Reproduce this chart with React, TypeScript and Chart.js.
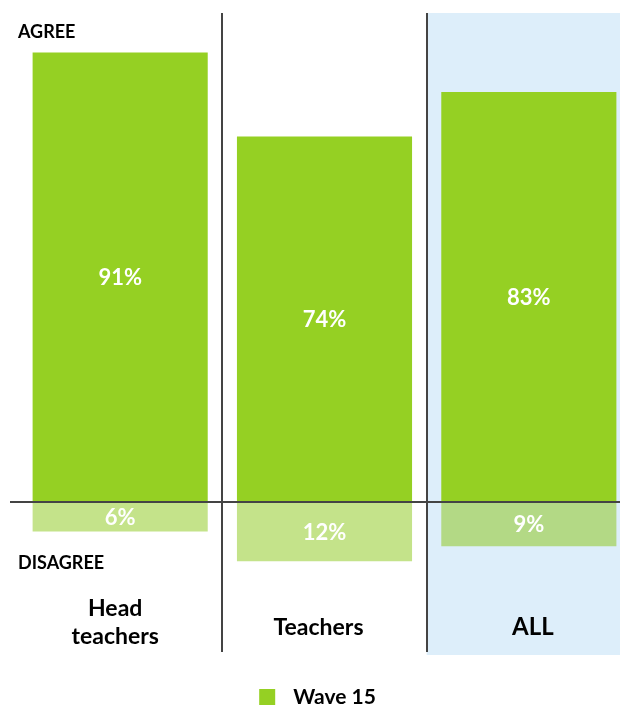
import React, { useEffect, useRef } from "react";
import { Chart, registerables } from "chart.js";

Chart.register(...registerables);

const categories: string[][] = [["Head", "teachers"], ["Teachers"], ["ALL"]];
const agreeValues = [91, 74, 83];
const disagreeValues = [6, 12, 9];
const seriesName = "Wave 15";
const agreeLabel = "AGREE";
const disagreeLabel = "DISAGREE";

const GREEN = "#95D023";
const LIGHT = ["#C4E38A", "#C4E38A", "#B3D985"];
const BLUE = "#DDEEFA";
const LINE = "#444444";
const FONT = 'Lato, "Open Sans", sans-serif';

const decor = {
  id: "decor",
  beforeDatasetsDraw(chart: any) {
    const { ctx, scales } = chart;
    const x = scales.x;
    const y = scales.y;
    const top = y.getPixelForValue(y.max);
    const bottom = y.getPixelForValue(y.min);
    const n = categories.length;
    ctx.save();
    const lastLeft = (x.getPixelForValue(n - 2) + x.getPixelForValue(n - 1)) / 2;
    ctx.fillStyle = BLUE;
    ctx.fillRect(lastLeft, top, chart.width - lastLeft, bottom - top);
    ctx.strokeStyle = LINE;
    ctx.lineWidth = 2;
    for (let i = 0; i < n - 1; i++) {
      const sx = Math.round((x.getPixelForValue(i) + x.getPixelForValue(i + 1)) / 2);
      ctx.beginPath();
      ctx.moveTo(sx, top);
      ctx.lineTo(sx, y.getPixelForValue(-30.4));
      ctx.stroke();
    }
    ctx.restore();
  },
  afterDatasetsDraw(chart: any) {
    const { ctx, scales } = chart;
    const x = scales.x;
    const y = scales.y;
    ctx.save();
    const zy = y.getPixelForValue(0);
    ctx.strokeStyle = LINE;
    ctx.lineWidth = 2;
    ctx.beginPath();
    ctx.moveTo(10, zy);
    ctx.lineTo(chart.width, zy);
    ctx.stroke();

    ctx.fillStyle = "#ffffff";
    ctx.font = `bold 22px ${FONT}`;
    ctx.textAlign = "center";
    ctx.textBaseline = "middle";
    chart.data.datasets.forEach((ds: any, di: number) => {
      const meta = chart.getDatasetMeta(di);
      meta.data.forEach((el: any, i: number) => {
        const v = Math.abs(ds.data[i]);
        const cy = (el.y + el.base) / 2;
        ctx.fillText(`${v}%`, el.x, cy + 1);
      });
    });

    ctx.fillStyle = "#000000";
    ctx.font = `bold 18px ${FONT}`;
    ctx.textAlign = "left";
    ctx.fillText(agreeLabel, chart.chartArea.left, y.getPixelForValue(95.1));
    ctx.fillText(disagreeLabel, chart.chartArea.left, y.getPixelForValue(-12.4));

    categories.forEach((lines, i) => {
      const cx = x.getPixelForValue(i);
      const isAll = i === categories.length - 1;
      ctx.font = isAll ? `bold 24px ${FONT}` : `bold 23px ${FONT}`;
      ctx.textAlign = "center";
      if (lines.length === 2) {
        ctx.fillText(lines[0], cx - 5, y.getPixelForValue(-21.6));
        ctx.fillText(lines[1], cx - 5, y.getPixelForValue(-27.3));
      } else {
        ctx.fillText(lines[0], cx + (isAll ? 4 : -6), y.getPixelForValue(-25.4));
      }
    });
    ctx.restore();
  },
  afterDraw(chart: any) {
    const { ctx } = chart;
    const ds = chart.data.datasets[0];
    ctx.save();
    ctx.font = `bold 21px ${FONT}`;
    const tw = ctx.measureText(ds.label).width;
    const box = 16;
    const gap = 18;
    const total = box + gap + tw;
    const cx = 317.5;
    const cy = 697;
    const sx = cx - total / 2;
    ctx.fillStyle = GREEN;
    ctx.fillRect(sx, cy - box / 2, box, box);
    ctx.fillStyle = "#000000";
    ctx.textAlign = "left";
    ctx.textBaseline = "middle";
    ctx.fillText(ds.label, sx + box + gap, cy);
    ctx.restore();
  },
};

export default function App() {
  const ref = useRef<HTMLCanvasElement | null>(null);
  useEffect(() => {
    if (!ref.current) return;
    const chart = new Chart(ref.current, {
      type: "bar",
      data: {
        labels: categories.map((c) => c.join(" ")),
        datasets: [
          {
            label: seriesName,
            data: agreeValues,
            backgroundColor: GREEN,
            borderWidth: 0,
            barPercentage: 0.857,
            categoryPercentage: 1,
          },
          {
            label: "Disagree",
            data: disagreeValues.map((v) => -v),
            backgroundColor: LIGHT,
            borderWidth: 0,
            barPercentage: 0.857,
            categoryPercentage: 1,
          },
        ],
      },
      options: {
        animation: false,
        responsive: false,
        layout: { padding: { top: 13, bottom: 51, left: 18, right: 1 } },
        plugins: {
          legend: { display: false },
          tooltip: { enabled: false },
        },
        scales: {
          x: { stacked: true, display: false },
          y: { stacked: true, display: false, min: -31, max: 99 },
        },
      },
      plugins: [decor],
    });
    return () => chart.destroy();
  }, []);
  return (
    <div
      style={{
        position: "fixed",
        left: 0,
        top: 0,
        width: 620,
        height: 706,
        overflow: "hidden",
        background: "#ffffff",
      }}
    >
      <canvas ref={ref} width={632} height={706} style={{ display: "block" }} />
    </div>
  );
}
